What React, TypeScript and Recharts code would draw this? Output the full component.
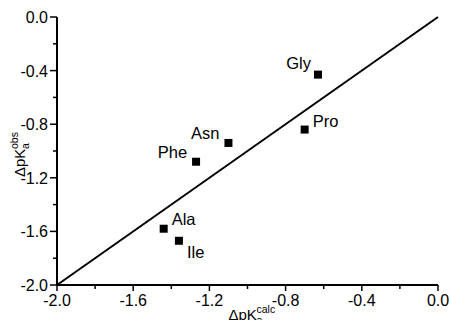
import {
  ScatterChart,
  Scatter,
  XAxis,
  YAxis,
  ReferenceLine,
  LabelList,
  Label,
} from "recharts";

const residues = ["Gly", "Pro", "Asn", "Phe", "Ala", "Ile"];
const calcValues = [-0.63, -0.7, -1.1, -1.27, -1.44, -1.36];
const obsValues = [-0.43, -0.84, -0.94, -1.08, -1.58, -1.67];

const majorTicks = [-2.0, -1.6, -1.2, -0.8, -0.4, 0.0];
const minorTicks = [-1.8, -1.4, -1.0, -0.6, -0.2];
const allTicks = [...majorTicks, ...minorTicks].sort((a, b) => a - b);

// label placement relative to each marker: [dx, dy, anchor]
const labelPos: Record<string, [number, number, string]> = {
  Gly: [-7, -6, "end"],
  Pro: [8, -3, "start"],
  Asn: [-9, -4, "end"],
  Phe: [-9, -4, "end"],
  Ala: [8, -4, "start"],
  Ile: [8, 17, "start"],
};

const points = residues.map((name, i) => ({
  name,
  x: calcValues[i],
  y: obsValues[i],
}));

const FONT = "'Liberation Sans', Arial, sans-serif";

const isMajor = (v: number) => majorTicks.some((m) => Math.abs(m - v) < 1e-6);

const XTick = (props: any) => {
  const { x, y, payload } = props;
  const major = isMajor(payload.value);
  return (
    <g>
      <line x1={x} x2={x} y1={y} y2={y + (major ? 6 : 4)} stroke="#000" strokeWidth={1.5} />
      {major && (
        <text x={x} y={y + 21} textAnchor="middle" fontSize={16} fontFamily={FONT} fill="#000">
          {payload.value.toFixed(1)}
        </text>
      )}
    </g>
  );
};

const YTick = (props: any) => {
  const { x, y, payload } = props;
  const major = isMajor(payload.value);
  return (
    <g>
      <line x1={x} x2={x - (major ? 7 : 4)} y1={y} y2={y} stroke="#000" strokeWidth={1.5} />
      {major && (
        <text x={x - 9} y={y + 6} textAnchor="end" fontSize={16} fontFamily={FONT} fill="#000">
          {payload.value.toFixed(1)}
        </text>
      )}
    </g>
  );
};

const Square = (props: any) => {
  const { cx, cy } = props;
  return <rect x={cx - 4} y={cy - 4} width={8} height={8} fill="#000" />;
};

const PointLabel = (props: any) => {
  const { x, y, width, height, value } = props;
  const cx = x + (width || 0) / 2;
  const cy = y + (height || 0) / 2;
  const [dx, dy, anchor] = labelPos[value] || [8, -4, "start"];
  return (
    <text x={cx + dx} y={cy + dy} textAnchor={anchor as any} fontSize={16.5} fontFamily={FONT} fill="#000">
      {value}
    </text>
  );
};

const XTitle = (props: any) => {
  const { viewBox } = props;
  const sx = viewBox.x + viewBox.width / 2 - 19;
  const by = 320;
  return (
    <g fontFamily={FONT} fill="#000">
      <text x={sx} y={by} fontSize={15}>ΔpK</text>
      <text x={sx + 28} y={by - 7} fontSize={10.5}>calc</text>
      <text x={sx + 28} y={by + 4} fontSize={10.5}>a</text>
    </g>
  );
};

const YTitle = () => {
  const bx = 25;
  const sy = 177;
  return (
    <g fontFamily={FONT} fill="#000" transform={`rotate(-90, ${bx}, ${sy})`}>
      <text x={bx} y={sy} fontSize={15}>ΔpK</text>
      <text x={bx + 28} y={sy - 7} fontSize={10.5}>obs</text>
      <text x={bx + 28} y={sy + 4} fontSize={10.5}>a</text>
    </g>
  );
};

export default function App() {
  return (
    <div style={{ position: "absolute", left: 0, top: 0, background: "#fff" }}>
      <ScatterChart
        width={450}
        height={320}
        margin={{ top: 17, right: 12, bottom: 0, left: 0 }}
      >
        <XAxis
          type="number"
          dataKey="x"
          domain={[-2, 0]}
          ticks={allTicks}
          interval={0}
          height={35}
          axisLine={{ stroke: "#000", strokeWidth: 2 }}
          tickLine={false}
          tickSize={0}
          tickMargin={0}
          tick={<XTick />}
        >
          <Label content={<XTitle />} />
        </XAxis>
        <YAxis
          type="number"
          dataKey="y"
          domain={[-2, 0]}
          ticks={allTicks}
          interval={0}
          width={57}
          axisLine={{ stroke: "#000", strokeWidth: 2 }}
          tickLine={false}
          tickSize={0}
          tickMargin={0}
          tick={<YTick />}
        >
          <Label content={<YTitle />} />
        </YAxis>
        <ReferenceLine
          segment={[
            { x: -2, y: -2 },
            { x: 0, y: 0 },
          ]}
          stroke="#000"
          strokeWidth={2}
        />
        <Scatter data={points} shape={<Square />} isAnimationActive={false}>
          <LabelList dataKey="name" content={<PointLabel />} />
        </Scatter>
      </ScatterChart>
    </div>
  );
}
